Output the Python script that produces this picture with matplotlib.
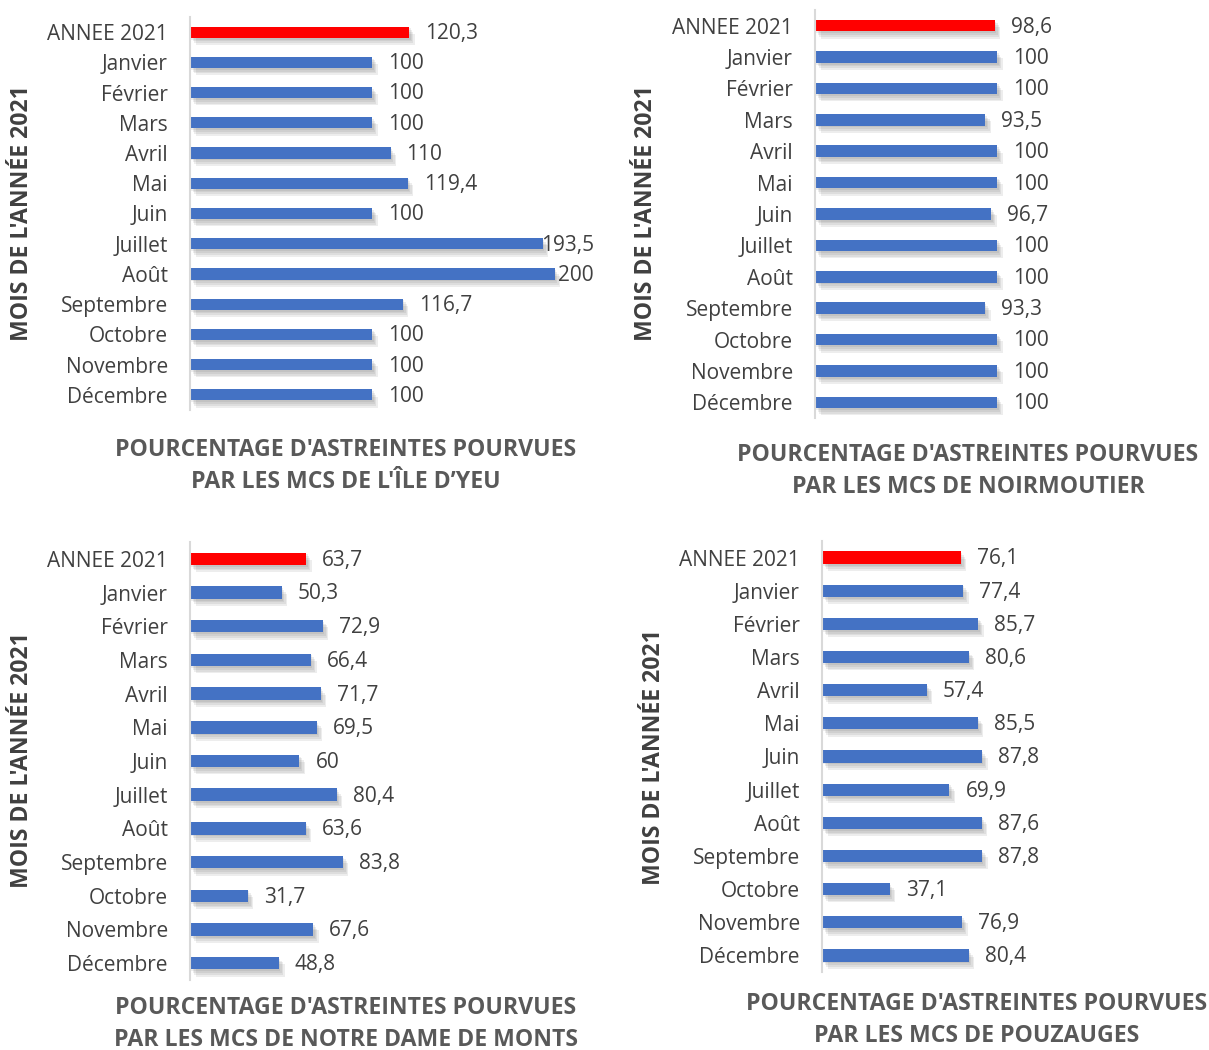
import matplotlib.pyplot as plt
import matplotlib.patheffects as pe

plt.rcParams['font.family'] = ['Open Sans', 'DejaVu Sans']

mois = ['ANNEE 2021', 'Janvier', 'Février', 'Mars', 'Avril', 'Mai', 'Juin',
        'Juillet', 'Août', 'Septembre', 'Octobre', 'Novembre', 'Décembre']

yeu = [120.3, 100, 100, 100, 110, 119.4, 100, 193.5, 200, 116.7, 100, 100, 100]
noirmoutier = [98.6, 100, 100, 93.5, 100, 100, 96.7, 100, 100, 93.3, 100, 100, 100]
notre_dame = [63.7, 50.3, 72.9, 66.4, 71.7, 69.5, 60, 80.4, 63.6, 83.8, 31.7, 67.6, 48.8]
pouzauges = [76.1, 77.4, 85.7, 80.6, 57.4, 85.5, 87.8, 69.9, 87.6, 87.8, 37.1, 76.9, 80.4]

titres = ["POURCENTAGE D'ASTREINTES POURVUES\nPAR LES MCS DE L'ÎLE D’YEU",
          "POURCENTAGE D'ASTREINTES POURVUES\nPAR LES MCS DE NOIRMOUTIER",
          "POURCENTAGE D'ASTREINTES POURVUES\nPAR LES MCS DE NOTRE DAME DE MONTS",
          "POURCENTAGE D'ASTREINTES POURVUES\nPAR LES MCS DE POUZAUGES"]

W, H = 1209, 1050
BLUE = '#4472C4'
RED = '#FF0000'
TXT = '#404040'
TITLE = '#595959'

fig = plt.figure(figsize=(W / 100, H / 100), dpi=100)


def px_axes(x0, y0, x1, y1):
    # pixel box (top-left origin) -> figure axes
    return fig.add_axes([x0 / W, 1 - y1 / H, (x1 - x0) / W, (y1 - y0) / H])


def panel(box, values, titre, title_xy, ylab_xy, label_nudge=None):
    ax = px_axes(*box)
    n = len(values)
    pos = list(range(n))
    colors = [RED] + [BLUE] * (n - 1)
    bars = ax.barh(pos, values, height=0.37, color=colors, zorder=2)
    shadow = [pe.SimplePatchShadow(offset=(o, -o * 1.3), shadow_rgbFace='#555555', alpha=0.10)
              for o in (1.0, 2.0, 3.0, 4.0)]
    for b in bars:
        b.set_path_effects(shadow + [pe.Normal()])
    width_px = box[2] - box[0]
    ax.set_xlim(0, width_px / 1.823)
    ax.set_ylim(n - 0.5, -0.5)
    ax.set_yticks(pos)
    ax.set_yticklabels(mois, fontsize=15, color=TXT)
    ax.tick_params(axis='y', length=0, pad=16)
    ax.set_xticks([])
    for s in ['top', 'right', 'bottom']:
        ax.spines[s].set_visible(False)
    ax.spines['left'].set_color('#D9D9D9')
    ax.spines['left'].set_linewidth(1.5)
    for i, v in enumerate(values):
        off = 16
        if label_nudge and i in label_nudge:
            off = label_nudge[i]
        ax.annotate(f'{v:g}'.replace('.', ','), (v, i), xytext=(off * 0.72, -1),
                    textcoords='offset points', va='center', ha='left',
                    fontsize=15, color=TXT)
    fig.text(title_xy[0] / W, 1 - title_xy[1] / H, titre, ha='center', va='center',
             fontsize=16.6, fontweight='bold', color=TITLE, linespacing=1.45)
    fig.text(ylab_xy[0] / W, 1 - ylab_xy[1] / H, "MOIS DE L'ANNÉE 2021", rotation=90,
             ha='center', va='center', fontsize=16.6, fontweight='bold', color=TXT)


panel((190, 17, 600, 410), yeu, titres[0], (346, 466), (22, 213), {7: -2, 8: 3})
panel((815, 10, 1205, 418), noirmoutier, titres[1], (968, 471), (646, 213))
panel((190, 542, 600, 980), notre_dame, titres[2], (346, 1024), (22, 760))
panel((822, 541, 1205, 972), pouzauges, titres[3], (977, 1020), (654, 757))

fig.savefig('out.png', dpi=100)
